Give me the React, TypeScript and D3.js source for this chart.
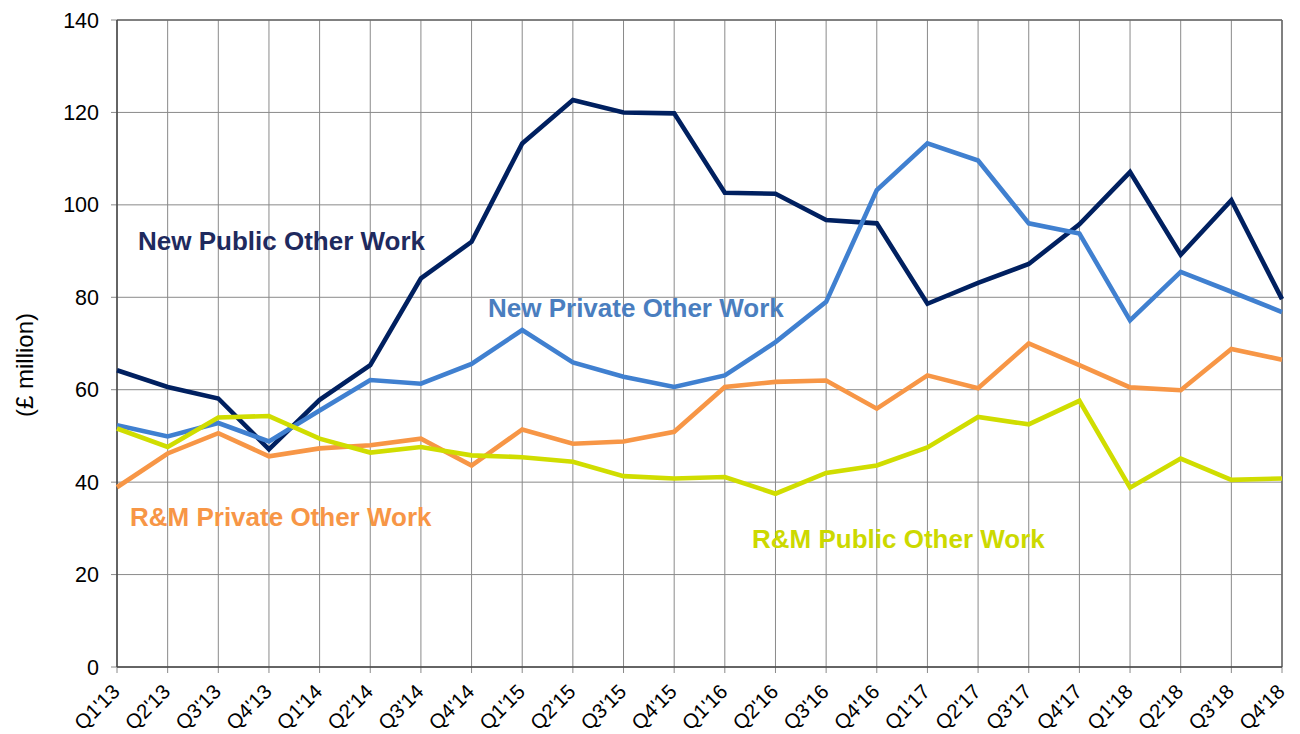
import React from "react";
import * as d3 from "d3";

const categories = ["Q1'13","Q2'13","Q3'13","Q4'13","Q1'14","Q2'14","Q3'14","Q4'14","Q1'15","Q2'15","Q3'15","Q4'15","Q1'16","Q2'16","Q3'16","Q4'16","Q1'17","Q2'17","Q3'17","Q4'17","Q1'18","Q2'18","Q3'18","Q4'18"];
const newPublic = [64.2,60.6,58.1,47.1,57.8,65.3,84.1,92.0,113.3,122.7,120.0,119.8,102.6,102.4,96.7,96.0,78.6,83.1,87.2,95.8,107.1,89.2,101.0,79.6];
const newPrivate = [52.3,49.9,52.8,48.8,55.5,62.1,61.3,65.6,72.9,65.9,62.8,60.6,63.1,70.3,79.0,103.2,113.3,109.6,96.0,93.8,75.0,85.5,81.2,76.8];
const rmPrivate = [38.9,46.2,50.6,45.6,47.3,48.0,49.4,43.6,51.4,48.3,48.8,50.9,60.6,61.7,62.0,55.9,63.1,60.3,70.0,65.3,60.5,59.9,68.8,66.5];
const rmPublic = [51.6,47.6,54.0,54.3,49.4,46.4,47.6,45.8,45.4,44.4,41.3,40.8,41.1,37.5,42.0,43.6,47.5,54.1,52.5,57.6,38.8,45.1,40.5,40.8];
const yTicks = [0,20,40,60,80,100,120,140];

const seriesList = [
  { name: "New Public Other Work", values: newPublic, color: "#002060", labelColor: "#1f2a5e", lx: 138, ly: 250 },
  { name: "New Private Other Work", values: newPrivate, color: "#4080d0", labelColor: "#4a7ebf", lx: 488, ly: 317 },
  { name: "R&M Private Other Work", values: rmPrivate, color: "#f79646", labelColor: "#f79646", lx: 130, ly: 526 },
  { name: "R&M Public Other Work", values: rmPublic, color: "#d0dd00", labelColor: "#ccd900", lx: 752, ly: 548 },
];

export default function App() {
  const W = 1300, H = 734;
  const left = 117, right = 1282, top = 20, bottom = 667;
  const x = d3.scalePoint<string>().domain(categories).range([left, right]);
  const y = d3.scaleLinear().domain([0, 140]).range([bottom, top]);
  const line = d3.line<number>().x((_, i) => x(categories[i]) as number).y(d => y(d));
  const font = "'Liberation Sans', Arial, sans-serif";
  return (
    <svg width={W} height={H} style={{ position: "absolute", left: 0, top: 0, background: "#fff" }} fontFamily={font}>
      {categories.map((c, i) => (
        <line key={"vg" + i} x1={x(c)} x2={x(c)} y1={top} y2={bottom + 6} stroke="#8a8a8a" strokeWidth={1} />
      ))}
      {yTicks.map(t => (
        <line key={"hg" + t} x1={left - 6} x2={right} y1={y(t)} y2={y(t)} stroke="#8a8a8a" strokeWidth={1} />
      ))}
      <line x1={left} x2={right} y1={top} y2={top} stroke="#6a6a6a" strokeWidth={1.5} />
      <line x1={right} x2={right} y1={top} y2={bottom} stroke="#6a6a6a" strokeWidth={1.5} />
      <line x1={left} x2={left} y1={top} y2={bottom} stroke="#444" strokeWidth={1.5} />
      <line x1={left} x2={right} y1={bottom} y2={bottom} stroke="#444" strokeWidth={1.5} />
      {yTicks.map(t => (
        <text key={"yt" + t} x={99} y={y(t)} dy="0.35em" textAnchor="end" fontSize={21.5} fill="#000">{t}</text>
      ))}
      <text transform={`translate(25,365) rotate(-90)`} textAnchor="middle" dy="0.35em" fontSize={24} fill="#000">(£ million)</text>
      {categories.map((c, i) => (
        <text key={"xl" + i} transform={`translate(${(x(c) as number) + 4},693) rotate(-45)`} textAnchor="end" fontSize={20.5} fill="#000">{c}</text>
      ))}
      {seriesList.map(s => (
        <path key={s.name} d={line(s.values) || ""} fill="none" stroke={s.color} strokeWidth={4.6} strokeLinejoin="miter" />
      ))}
      {seriesList.map(s => (
        <text key={"l" + s.name} x={s.lx} y={s.ly} fontSize={26} fontWeight="bold" fill={s.labelColor}>{s.name}</text>
      ))}
    </svg>
  );
}
